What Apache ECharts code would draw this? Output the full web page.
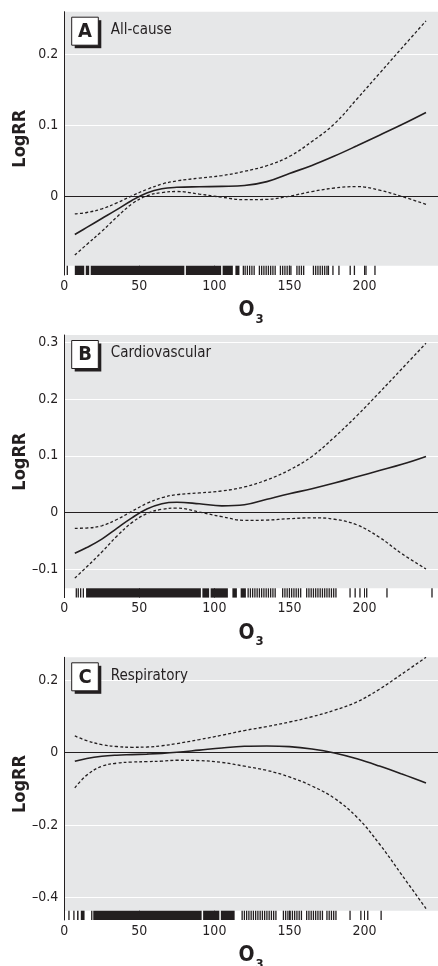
<!DOCTYPE html>
<html>
<head>
<meta charset="utf-8">
<script src="https://cdn.jsdelivr.net/npm/echarts@6/dist/echarts.min.js"></script>
<style>
html,body{margin:0;padding:0;background:#fff;overflow:hidden;}
#chart{width:438px;height:966px;}
</style>
</head>
<body>
<div id="chart"></div>
<script>
// ---------- data ----------
const o3 = [7, 15, 25, 35, 45, 55, 65, 75, 90, 105, 120, 135, 150, 165, 180, 195, 210, 225, 241];

const fitA   = [-0.054, -0.044, -0.0315, -0.019, -0.006, 0.0045, 0.0105, 0.0125, 0.0133, 0.0138, 0.015, 0.0205, 0.032, 0.0433, 0.0565, 0.071, 0.086, 0.101, 0.118];
const upperA = [-0.025, -0.023, -0.018, -0.0095, 0.0005, 0.0095, 0.017, 0.0215, 0.0255, 0.029, 0.035, 0.043, 0.056, 0.077, 0.102, 0.137, 0.173, 0.209, 0.247];
const lowerA = [-0.083, -0.068, -0.0495, -0.0295, -0.011, 0.0005, 0.005, 0.0066, 0.003, -0.0015, -0.005, -0.0045, 0, 0.0065, 0.0115, 0.0135, 0.0085, -0.0005, -0.0115];

const fitB   = [-0.072, -0.062, -0.047, -0.028, -0.0095, 0.006, 0.0155, 0.018, 0.0153, 0.0117, 0.0136, 0.0233, 0.033, 0.042, 0.052, 0.063, 0.074, 0.085, 0.099];
const upperB = [-0.028, -0.0275, -0.0235, -0.0125, 0.002, 0.016, 0.026, 0.0315, 0.0345, 0.038, 0.045, 0.0575, 0.075, 0.099, 0.133, 0.171, 0.212, 0.254, 0.299];
const lowerB = [-0.116, -0.096, -0.07, -0.042, -0.018, -0.002, 0.0055, 0.0077, 0.0006, -0.0075, -0.014, -0.0135, -0.011, -0.0095, -0.012, -0.022, -0.044, -0.073, -0.0998];

const fitC   = [-0.024, -0.016, -0.010, -0.007, -0.0055, -0.004, -0.002, 0.001, 0.007, 0.013, 0.0175, 0.0185, 0.0167, 0.01, -0.001, -0.017, -0.037, -0.059, -0.0837];
const upperC = [0.046, 0.033, 0.022, 0.017, 0.0148, 0.0155, 0.019, 0.025, 0.036, 0.048, 0.061, 0.072, 0.0845, 0.099, 0.117, 0.14, 0.175, 0.217, 0.263];
const lowerC = [-0.097, -0.062, -0.0374, -0.029, -0.026, -0.0248, -0.0235, -0.021, -0.022, -0.027, -0.0374, -0.049, -0.067, -0.092, -0.126, -0.178, -0.252, -0.338, -0.43];

// rug: dense blocks [from, to] and single ticks
const rugBlocksA = [[7, 13.3], [14.3, 16.6], [17.6, 80], [81, 104.5], [105.5, 112.3], [114, 116.7]];
const rugTicksA  = [2, 119.3, 120.5, 122, 123.5, 125, 126.5, 130, 131.5, 133, 134.5, 136, 137.5, 139, 140.5, 144, 145.5, 147, 148.5, 150, 151, 155, 156.5, 158, 159.5, 166, 167.5, 169, 170.5, 172, 173.5, 175, 176, 179, 183, 190.5, 193.3, 201, 207];

const rugBlocksB = [[14.5, 91], [92, 96.5], [97.5, 109], [112, 115], [117.5, 121]];
const rugTicksB  = [8, 9.3, 10.9, 12.7, 122.5, 124, 125.5, 127, 128.5, 130, 131.5, 133, 134.5, 136, 137.5, 139, 140.5, 145.5, 147, 148.5, 150, 151.5, 153, 154.5, 156, 157.5, 161.5, 163, 164.5, 166, 167.5, 169, 170.5, 172, 173.5, 175, 176.5, 178, 179.5, 181, 190.4, 193.8, 197, 201.5, 215, 245];

const rugBlocksC = [[8.5, 9.5], [11, 13.5], [19.3, 91.5], [92.5, 103.3], [104.3, 113.5]];
const rugTicksC  = [3.1, 6.4, 18.3, 118.5, 120, 121.5, 123, 124.5, 126, 127.5, 129, 130.5, 132, 133.5, 135, 136.5, 138, 139.5, 141, 146, 147.5, 149, 150.5, 152, 153.5, 155, 156.5, 158, 161.5, 163, 164.5, 166, 167.5, 169, 170.5, 172, 175, 176.5, 178, 179.5, 181, 190.4, 197.6, 202.2, 211.1];

const xTicks  = [0, 50, 100, 150, 200];
const yTicksA = [0, 0.1, 0.2];
const yTicksB = [-0.1, 0, 0.1, 0.2, 0.3];
const yTicksC = [-0.4, -0.2, 0, 0.2];

const panelLetters = ['A', 'B', 'C'];
const causes = ['All-cause', 'Cardiovascular', 'Respiratory'];
const yName = 'LogRR';

// ---------- layout / style ----------
const FONT = "'Liberation Sans Narrow','DejaVu Sans Condensed','Roboto Condensed','Arial Narrow',sans-serif";
const INK = '#231f20';
const BG = '#e6e7e8';
const LEFT = 64.3;
const RUG_H = 9.3;
const X_MAX = 249;

const panels = [
  { top: 11.7, height: 254, yMin: -0.098, yMax: 0.26, ticks: yTicksA, fit: fitA, up: upperA, lo: lowerA, blocks: rugBlocksA, rticks: rugTicksA },
  { top: 335, height: 253.3, yMin: -0.134, yMax: 0.3135, ticks: yTicksB, fit: fitB, up: upperB, lo: lowerB, blocks: rugBlocksB, rticks: rugTicksB },
  { top: 657.3, height: 253.4, yMin: -0.436, yMax: 0.263, ticks: yTicksC, fit: fitC, up: upperC, lo: lowerC, blocks: rugBlocksC, rticks: rugTicksC }
];

function fmt(v) {
  if (Math.abs(v) < 1e-9) return '0';
  return (v < 0 ? '\u2013' : '') + Math.abs(v).toFixed(1);
}
function pairs(xs, ys) { return xs.map((x, i) => [x, ys[i]]); }

const grid = [], xAxis = [], yAxis = [], series = [], graphic = [];

panels.forEach((p, i) => {
  const gi = i * 2, ri = i * 2 + 1;
  grid.push({ left: LEFT, right: 0, top: p.top, height: p.height, show: true, backgroundColor: BG, borderWidth: 0, containLabel: false, outerBoundsMode: 'none' });
  grid.push({ left: LEFT, right: 0, top: p.top + p.height, height: RUG_H, show: false, containLabel: false, outerBoundsMode: 'none' });

  xAxis.push({ type: 'value', gridIndex: gi, min: 0, max: X_MAX, show: false, splitLine: { show: false } });
  xAxis.push({
    type: 'value', gridIndex: ri, min: 0, max: X_MAX,
    axisLine: { show: false },
    axisTick: { show: true, inside: true, length: RUG_H, customValues: xTicks, lineStyle: { color: INK, width: 1 } },
    axisLabel: { customValues: xTicks, margin: 4, color: INK, fontFamily: FONT, fontSize: 14 },
    splitLine: { show: false },
    name: '{o|O}{s|3}', nameLocation: 'middle', nameGap: 24, nameMoveOverlap: false,
    nameTextStyle: {
      rich: {
        o: { fontFamily: FONT, fontWeight: 'bold', fontSize: 21, color: INK, lineHeight: 22, verticalAlign: 'bottom' },
        s: { fontFamily: FONT, fontWeight: 'bold', fontSize: 13, color: INK, lineHeight: 22, padding: [0, 0, -5, 1], verticalAlign: 'bottom' }
      }
    }
  });

  yAxis.push({
    type: 'value', gridIndex: gi, min: p.yMin, max: p.yMax,
    axisLine: { show: true, lineStyle: { color: INK, width: 1 } },
    axisTick: { show: false, customValues: p.ticks },
    axisLabel: { customValues: p.ticks, formatter: fmt, margin: 6, color: INK, fontFamily: FONT, fontSize: 14 },
    splitLine: { show: true, lineStyle: { color: '#ffffff', width: 1 } },
    name: yName, nameLocation: 'middle', nameGap: 35, nameMoveOverlap: false,
    nameTextStyle: { fontFamily: FONT, fontWeight: 'bold', fontSize: 18, color: INK }
  });
  yAxis.push({
    type: 'value', gridIndex: ri, min: 0, max: 1,
    axisLine: { show: true, lineStyle: { color: INK, width: 1 } },
    axisTick: { show: false }, axisLabel: { show: false }, splitLine: { show: false }
  });

  series.push({
    type: 'line', xAxisIndex: gi, yAxisIndex: gi, data: pairs(o3, p.fit), smooth: 0.4,
    symbol: 'none', lineStyle: { color: INK, width: 1.6 }, z: 5,
    markLine: { silent: true, symbol: 'none', label: { show: false }, lineStyle: { color: INK, width: 1, type: 'solid' }, data: [{ yAxis: 0 }], z: 3 }
  });
  [p.up, p.lo].forEach(arr => {
    series.push({
      type: 'line', xAxisIndex: gi, yAxisIndex: gi, data: pairs(o3, arr), smooth: 0.4,
      symbol: 'none', lineStyle: { color: INK, width: 1.3, type: [3, 2.2] }, z: 5
    });
  });

  const rugData = p.blocks.map(b => [b[0], b[1]]).concat(p.rticks.map(t => [t, t]));
  series.push({
    type: 'custom', xAxisIndex: ri, yAxisIndex: ri, data: rugData, silent: true,
    renderItem: function (params, api) {
      const a = api.coord([api.value(0), 1]);
      const b = api.coord([api.value(1), 0]);
      const span = b[0] - a[0];
      const w = Math.max(span, 1.3);
      return { type: 'rect', shape: { x: a[0] - (span < 1.3 ? 0.65 : 0), y: a[1], width: w, height: b[1] - a[1] }, style: { fill: INK } };
    }
  });

  // panel letter box & cause label
  const bx = 71.7, by = p.top + 5.5, bw = 26.6, bh = 28;
  graphic.push({ type: 'rect', shape: { x: bx + 3, y: by + 3, width: bw, height: bh }, style: { fill: INK }, z: 20 });
  graphic.push({ type: 'rect', shape: { x: bx, y: by, width: bw, height: bh }, style: { fill: '#ffffff', stroke: INK, lineWidth: 1 }, z: 21 });
  graphic.push({ type: 'text', x: bx + bw / 2, y: by + bh / 2 + 0.5, style: { text: panelLetters[i], fill: INK, font: "bold 20px " + FONT, textAlign: 'center', textVerticalAlign: 'middle' }, z: 22 });
  graphic.push({ type: 'text', x: 110.7, y: by + 13, style: { text: causes[i], fill: INK, font: "15px " + FONT, textAlign: 'left', textVerticalAlign: 'middle' }, z: 22 });
});

const chart = echarts.init(document.getElementById('chart'), null, { renderer: 'canvas' });
chart.setOption({
  animation: false,
  backgroundColor: '#ffffff',
  grid, xAxis, yAxis, series, graphic
});
</script>
</body>
</html>
